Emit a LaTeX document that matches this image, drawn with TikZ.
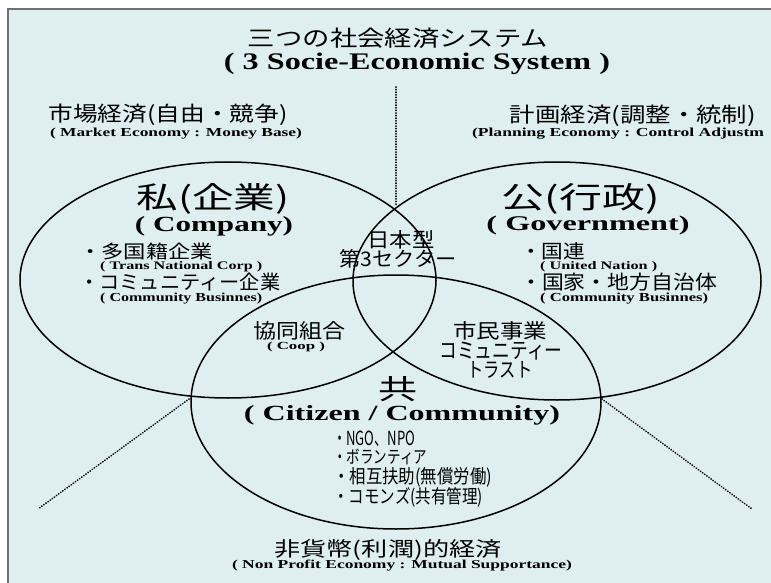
\documentclass[tikz,border=0pt]{standalone}
\usepackage{fontspec}
\setmainfont{Liberation Serif}
\newfontfamily\jpf{Noto Sans CJK JP}
\usetikzlibrary{shapes.geometric}
\newcommand\tw[3]{\resizebox{#1pt}{#2pt}{#3}}
\definecolor{bgc}{HTML}{DFEEEE}
\definecolor{framec}{HTML}{707070}
\begin{document}
\begin{tikzpicture}[x=1pt,y=-1pt,
  jp/.style={inner sep=0pt, font=\jpf},
  en/.style={inner sep=0pt, font=\bfseries},
  venn/.style={draw, ellipse, line width=1.5pt, inner sep=0pt},
  sepline/.style={line width=1.9pt, dash pattern=on 0.1pt off 2.5pt, line cap=round}]
\useasboundingbox (0,0) rectangle (771,583);
\fill[white] (0,0) rectangle (771,583);
\fill[bgc] (8,9) rectangle (771,583);
\draw[framec, line width=1.5pt] (8,583) -- (8,9) -- (771,9);

% circles
\node[venn, minimum width=416pt, minimum height=236pt] (priv) at (228,280) {};
\node[venn, minimum width=408pt, minimum height=238pt] (pub) at (557,281) {};
\node[venn, minimum width=410pt, minimum height=254pt] (com) at (396,402) {};

% separators
\coordinate (vtop) at (396,87);
\coordinate (vbot) at (396,205);
\coordinate (ltop) at (189,399);
\coordinate (lbot) at (38,509);
\coordinate (rtop) at (602,399);
\coordinate (rbot) at (752,509);
\draw[sepline] (vtop) -- (vbot);
\draw[sepline] (ltop) -- (lbot);
\draw[sepline] (rtop) -- (rbot);

% titles
\node[jp] (t1) at (398,38) {\tw{300}{18.5}{三つの社会経済システム}};
\node[en] (t2) at (417,64) {\tw{386}{16.5}{( 3 Socie-Economic System )}};
\node[jp] (mk1) at (168,115) {\tw{239}{17.5}{市場経済(自由・競争)}};
\node[en] (mk2) at (176,134) {\tw{252}{8.5}{( Market Economy : Money Base)}};
\node[jp] (pl1) at (633,116) {\tw{246}{17.5}{計画経済(調整・統制)}};
\node[en] (pl2) at (618,134) {\tw{292}{8.5}{(Planning Economy : Control Adjustm}};

% private
\node[jp] (p1) at (213,199) {\tw{153}{25}{私(企業)}};
\node[en] (p2) at (214,226) {\tw{158}{15}{( Company)}};
\node[jp, anchor=west] (p3) at (79,252) {\tw{134}{15.5}{・多国籍企業}};
\node[en, anchor=west] (p4) at (100,267) {\tw{162}{8}{( Trans National Corp )}};
\node[jp, anchor=west] (p5) at (79,282) {\tw{201}{16.5}{・コミュニティー企業}};
\node[en, anchor=west] (p6) at (100,299) {\tw{162}{8.5}{( Community Businnes)}};

% center
\node[jp] (c1) at (401,240) {\tw{67}{17}{日本型}};
\node[jp] (c2) at (398,259) {\tw{117}{17}{第3セクター}};

% public
\node[jp] (g1) at (581,199) {\tw{158}{25}{公(行政)}};
\node[en] (g2) at (588,225) {\tw{203}{14.5}{( Government)}};
\node[jp, anchor=west] (g3) at (520,251) {\tw{65}{16}{・国連}};
\node[en, anchor=west] (g4) at (540,267) {\tw{117}{8}{( United Nation )}};
\node[jp, anchor=west] (g5) at (520,282) {\tw{197}{16.5}{・国家・地方自治体}};
\node[en, anchor=west] (g6) at (540,299) {\tw{168}{8.5}{( Community Businnes)}};

% overlaps
\node[jp] (o1) at (299,331) {\tw{92}{17}{協同組合}};
\node[en] (o2) at (296,347) {\tw{58}{7.5}{( Coop )}};
\node[jp] (o3) at (500,331) {\tw{94}{17}{市民事業}};
\node[jp] (o4) at (501,351) {\tw{123}{16.5}{コミュニティー}};
\node[jp] (o5) at (500,370) {\tw{65}{16}{トラスト}};

% community
\node[jp] (k1) at (398,389) {\tw{39}{23}{共}};
\node[en] (k2) at (402,415) {\tw{316}{15}{( Citizen / Community)}};
\node[jp, anchor=west] (k3) at (333,439) {\tw{82}{14.5}{・NGO、NPO}};
\node[jp, anchor=west] (k4) at (333,457) {\tw{94}{14.5}{・ボランティア}};
\node[jp, anchor=west] (k5) at (333,477) {\tw{159}{16}{・相互扶助(無償労働)}};
\node[jp, anchor=west] (k6) at (333,497) {\tw{150}{16}{・コモンズ(共有管理)}};

% bottom
\node[jp] (b1) at (388,550) {\tw{227}{17}{非貨幣(利潤)的経済}};
\node[en] (b2) at (402,566) {\tw{340}{8.5}{( Non Profit Economy : Mutual Supportance)}};
\end{tikzpicture}
\end{document}
